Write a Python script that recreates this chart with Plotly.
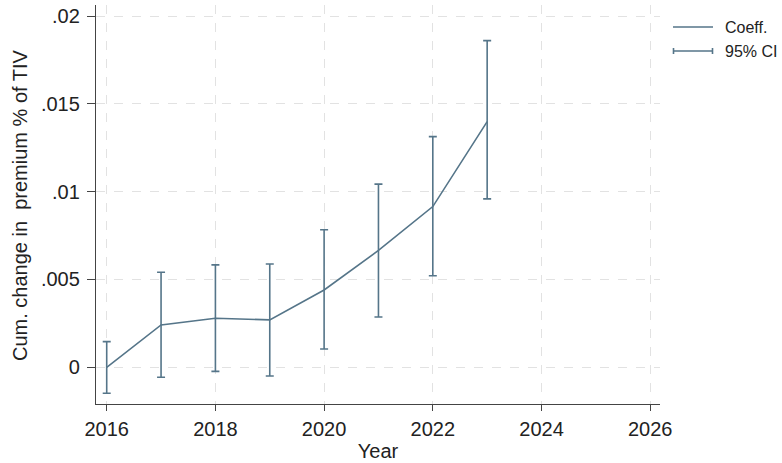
import plotly.graph_objects as go

years = [2016, 2017, 2018, 2019, 2020, 2021, 2022, 2023]
coef = [0.0, 0.00241, 0.00279, 0.0027, 0.0044, 0.00665, 0.00915, 0.01399]
ci_low = [-0.00148, -0.00057, -0.00023, -0.0005, 0.00104, 0.00286, 0.00521, 0.00959]
ci_high = [0.00146, 0.00541, 0.00583, 0.00588, 0.00783, 0.01043, 0.01313, 0.0186]

y_ticks = [0, 0.005, 0.01, 0.015, 0.02]
y_ticktext = ["0", ".005", ".01", ".015", ".02"]
x_ticks = [2016, 2018, 2020, 2022, 2024, 2026]

color = "#557589"
font = "Liberation Sans, Arial, sans-serif"

fig = go.Figure()
fig.add_trace(go.Scatter(
    x=years, y=coef, mode="lines",
    line=dict(color=color, width=1.6),
    error_y=dict(type="data", symmetric=False,
                 array=[h - c for h, c in zip(ci_high, coef)],
                 arrayminus=[c - l for c, l in zip(coef, ci_low)],
                 color=color, thickness=1.6, width=4),
    showlegend=False,
))

fig.update_layout(
    width=782, height=463,
    margin=dict(l=96, r=122, t=5, b=59),
    plot_bgcolor="white", paper_bgcolor="white",
    font=dict(family=font, size=20, color="#222222"),
    xaxis=dict(range=[2015.803, 2026.18], tickvals=x_ticks,
               showline=True, linecolor="#444444", linewidth=1.3,
               ticks="outside", ticklen=6, tickcolor="#444444",
               showgrid=True, gridcolor="#e2e2e2", griddash="dash", gridwidth=1.2,
               zeroline=False, ticklabelstandoff=1,
               title=dict(text="Year", standoff=4, font=dict(size=20))),
    yaxis=dict(range=[-0.00209, 0.020626], tickvals=y_ticks, ticktext=y_ticktext,
               showline=True, linecolor="#444444", linewidth=1.3,
               ticks="outside", ticklen=8, tickcolor="#444444",
               showgrid=True, gridcolor="#e2e2e2", griddash="dash", gridwidth=1.2,
               zeroline=False, ticklabelstandoff=3),
)

fig.add_annotation(xref="paper", yref="paper", x=(20 - 96) / 564, y=(404 - 205) / 399,
                   text="Cum. change in  premium % of TIV", textangle=-90,
                   showarrow=False, font=dict(size=20, color="#222222"),
                   xanchor="center", yanchor="middle")

# Legend drawn manually
def px_x(p):
    return (p - 96) / 564

def px_y(p):
    return (404 - p) / 399

fig.add_shape(type="line", xref="paper", yref="paper",
              x0=px_x(673), x1=px_x(713), y0=px_y(27), y1=px_y(27),
              line=dict(color=color, width=1.6))
fig.add_shape(type="line", xref="paper", yref="paper",
              x0=px_x(673), x1=px_x(713), y0=px_y(51), y1=px_y(51),
              line=dict(color=color, width=1.6))
for xp in (673.5, 712.5):
    fig.add_shape(type="line", xref="paper", yref="paper",
                  x0=px_x(xp), x1=px_x(xp), y0=px_y(48), y1=px_y(54),
                  line=dict(color=color, width=1.6))
fig.add_annotation(xref="paper", yref="paper", x=px_x(723), y=px_y(27),
                   text="Coeff.", showarrow=False, xanchor="left", yanchor="middle",
                   font=dict(size=16, color="#222222"))
fig.add_annotation(xref="paper", yref="paper", x=px_x(723), y=px_y(51),
                   text="95% CI", showarrow=False, xanchor="left", yanchor="middle",
                   font=dict(size=16, color="#222222"))

fig.write_html("out.html")
